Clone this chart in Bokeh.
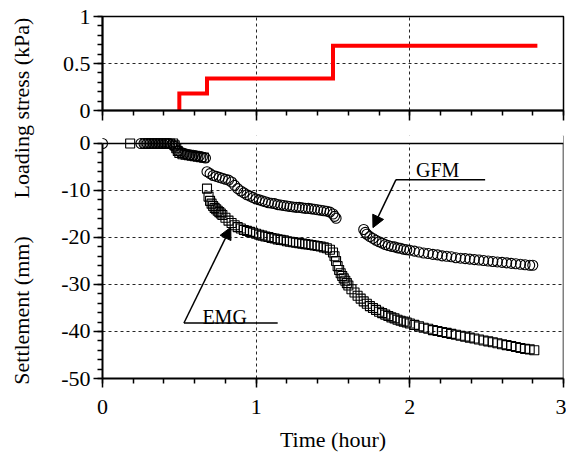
from math import pi
from bokeh.plotting import figure
from bokeh.layouts import row, column
from bokeh.models import (Range1d, FixedTicker, Span, BoxAnnotation, Label,
                          Arrow, NormalHead, CustomLabelingPolicy)
from bokeh.embed import file_html
from bokeh.resources import INLINE

FONT = "Liberation Serif"

# ---------------- data ----------------
# loading stress steps (time in hours, stress in kPa)
stress_t = [0.5, 0.5, 0.68, 1.5, 2.83]
stress_kpa = [0.0, 0.18, 0.34, 0.69, 0.69]

# GFM settlement (circles)
gfm_t = [0.00,
         0.25, 0.27, 0.29, 0.31, 0.33, 0.35, 0.37, 0.39, 0.41, 0.43, 0.45, 0.47,
         0.49, 0.51, 0.53, 0.55, 0.57, 0.59, 0.61, 0.63, 0.65, 0.67,
         0.68, 0.70, 0.72, 0.74, 0.76, 0.78, 0.80, 0.82, 0.84, 0.86, 0.88, 0.90,
         0.92, 0.94, 0.96, 0.98, 1.00, 1.02, 1.04, 1.06, 1.08, 1.10, 1.12, 1.14,
         1.16, 1.18, 1.20, 1.22, 1.24, 1.26, 1.28, 1.30, 1.32, 1.34, 1.36, 1.38,
         1.40, 1.42, 1.44, 1.46, 1.48, 1.50, 1.51, 1.52,
         1.70, 1.71, 1.72, 1.74, 1.76, 1.78, 1.80, 1.82, 1.84, 1.86, 1.88, 1.90,
         1.92, 1.94, 1.96, 1.98, 2.00, 2.03, 2.06, 2.09, 2.12, 2.15, 2.18, 2.21,
         2.24, 2.27, 2.30, 2.33, 2.36, 2.39, 2.42, 2.45, 2.48, 2.51, 2.54, 2.57,
         2.60, 2.63, 2.66, 2.69, 2.72, 2.75, 2.78, 2.80]
gfm_s = [0.0,
         0.0, 0.0, 0.0, 0.0, 0.0, 0.0, 0.0, 0.0, 0.0, 0.0, -0.2, -0.6,
         -1.5, -1.9, -2.1, -2.3, -2.4, -2.5, -2.6, -2.7, -2.9, -3.1,
         -6.0, -6.4, -6.8, -7.0, -7.2, -7.4, -7.6, -7.8, -8.2, -8.9, -9.6, -10.1,
         -10.5, -10.9, -11.2, -11.5, -11.8, -12.0, -12.2, -12.4, -12.6, -12.7, -12.8, -13.0,
         -13.1, -13.2, -13.3, -13.4, -13.5, -13.6, -13.6, -13.7, -13.8, -13.8, -13.9, -14.0,
         -14.1, -14.2, -14.3, -14.4, -14.6, -15.0, -15.5, -15.9,
         -18.3, -18.9, -19.3, -19.8, -20.2, -20.6, -20.9, -21.2, -21.5, -21.7, -21.9, -22.0,
         -22.2, -22.3, -22.5, -22.6, -22.7, -22.9, -23.1, -23.3, -23.4, -23.6, -23.7, -23.9,
         -24.0, -24.1, -24.3, -24.4, -24.5, -24.6, -24.7, -24.8, -24.9, -25.0, -25.1, -25.2,
         -25.3, -25.4, -25.5, -25.6, -25.7, -25.8, -25.9, -25.9]

# EMG settlement (squares)
emg_t = [0.18,
         0.28, 0.30, 0.32, 0.34, 0.36, 0.38, 0.40, 0.42, 0.44, 0.46,
         0.47, 0.48, 0.49, 0.50, 0.52, 0.54, 0.56, 0.58, 0.60, 0.62, 0.64, 0.66,
         0.68, 0.69, 0.70, 0.71, 0.72, 0.73, 0.74, 0.75, 0.76, 0.77, 0.78, 0.80,
         0.82, 0.84, 0.86, 0.88, 0.90, 0.92, 0.94, 0.96, 0.98, 1.00, 1.02, 1.04,
         1.06, 1.08, 1.10, 1.12, 1.14, 1.16, 1.18, 1.20, 1.22, 1.24, 1.26, 1.28,
         1.30, 1.32, 1.34, 1.36, 1.38, 1.40, 1.42, 1.44, 1.46, 1.48, 1.50,
         1.51, 1.52, 1.53, 1.54, 1.55, 1.56, 1.57, 1.58, 1.59, 1.60, 1.62, 1.64,
         1.66, 1.68, 1.70, 1.72, 1.74, 1.76, 1.78, 1.80, 1.82, 1.84, 1.86, 1.88,
         1.90, 1.92, 1.94, 1.96, 1.98, 2.00, 2.03, 2.06, 2.09, 2.12, 2.15, 2.18,
         2.21, 2.24, 2.27, 2.30, 2.33, 2.36, 2.39, 2.42, 2.45, 2.48, 2.51, 2.54,
         2.57, 2.60, 2.63, 2.66, 2.69, 2.72, 2.75, 2.78, 2.81]
emg_s = [0.0,
         0.0, 0.0, 0.0, 0.0, 0.0, 0.0, 0.0, 0.0, 0.0, 0.0,
         -0.4, -1.0, -1.6, -2.0, -2.3, -2.4, -2.5, -2.6, -2.7, -2.8, -2.9, -3.0,
         -9.6, -11.3, -12.2, -12.8, -13.3, -13.7, -14.0, -14.3, -14.6, -14.9, -15.2, -15.8,
         -16.4, -16.9, -17.4, -17.8, -18.1, -18.4, -18.6, -18.8, -19.0, -19.2, -19.4, -19.6,
         -19.8, -19.9, -20.1, -20.2, -20.4, -20.5, -20.6, -20.8, -20.9, -21.0, -21.1, -21.2,
         -21.3, -21.4, -21.5, -21.6, -21.7, -21.8, -21.9, -22.1, -22.3, -22.6, -23.2,
         -24.0, -25.0, -26.1, -26.9, -27.6, -28.2, -28.7, -29.2, -29.7, -30.2, -31.0, -31.7,
         -32.4, -33.0, -33.6, -34.1, -34.6, -35.0, -35.4, -35.8, -36.1, -36.4, -36.7, -37.0,
         -37.2, -37.5, -37.7, -37.9, -38.1, -38.3, -38.6, -38.9, -39.2, -39.4, -39.7, -39.9,
         -40.1, -40.3, -40.5, -40.7, -40.9, -41.1, -41.3, -41.5, -41.7, -41.9, -42.1, -42.3,
         -42.5, -42.7, -42.9, -43.1, -43.3, -43.5, -43.7, -43.8, -44.0]

# ticks
x_ticks = [0, 1, 2, 3]
x_tick_labels = ["0", "1", "2", "3"]
x_minor = [i * 0.2 for i in range(16)]
stress_ticks = [0, 0.5, 1]
stress_tick_labels = ["0", "0.5", "1"]
stress_minor = [i * 0.1 for i in range(11)]
settle_ticks = [0, -10, -20, -30, -40, -50]
settle_tick_labels = ["0", "-10", "-20", "-30", "-40", "-50"]
settle_minor = [-2 * i for i in range(26)]

# annotations (data coordinates)
gfm_text_pos = (2.04, -5.6)
gfm_leader_x = [1.91, 2.49]
gfm_leader_y = [-7.7, -7.7]
gfm_arrow_tip = (1.76, -17.9)
emg_text_pos = (0.65, -37.0)
emg_leader_x = [0.53, 1.14]
emg_leader_y = [-38.2, -38.2]
emg_arrow_tip = (0.835, -17.8)

# ---------------- styling helpers ----------------
def style_axis(ax):
    ax.axis_line_width = 2
    ax.axis_line_color = "black"
    ax.major_tick_line_width = 1.5
    ax.minor_tick_line_width = 1.5
    ax.major_tick_line_color = "black"
    ax.minor_tick_line_color = "black"
    ax.major_tick_in = 0
    ax.minor_tick_in = 0
    ax.major_tick_out = 9
    ax.minor_tick_out = 5
    ax.major_label_text_font = FONT
    ax.major_label_text_font_size = "22px"
    ax.major_label_text_color = "black"


def style_grid(g):
    g.grid_line_color = "black"
    g.grid_line_width = 1
    g.grid_line_dash = "3 3"
    g.grid_line_alpha = 0.85


FRAME_W = 461
LEFT = 56
RIGHT = 3

# ---------------- top panel: loading stress ----------------
top = figure(frame_width=FRAME_W, frame_height=94,
             x_range=Range1d(0, 3), y_range=Range1d(0, 1),
             output_backend="svg", toolbar_location=None,
             min_border_left=LEFT, min_border_right=RIGHT,
             min_border_top=16, min_border_bottom=12)
top.outline_line_color = "black"
top.outline_line_width = 1.5
top.xaxis.ticker = FixedTicker(ticks=x_ticks, minor_ticks=x_minor)
top.yaxis.ticker = FixedTicker(ticks=stress_ticks, minor_ticks=stress_minor)
for ax in (top.xaxis[0], top.yaxis[0]):
    style_axis(ax)
top.xaxis.major_tick_out = 10
top.xaxis.major_label_standoff = 0
top.xaxis.major_label_text_font_size = "1px"
top.xaxis.major_label_policy = CustomLabelingPolicy(code="return []")
top.yaxis.major_label_overrides = dict(zip(stress_ticks, stress_tick_labels))
top.yaxis.major_label_standoff = 3
style_grid(top.xgrid[0])
style_grid(top.ygrid[0])

top.step(stress_t, stress_kpa, mode="after", line_color="red", line_width=4,
         line_join="miter")

# ---------------- bottom panel: settlement ----------------
bot = figure(frame_width=FRAME_W, frame_height=243,
             x_range=Range1d(0, 3), y_range=Range1d(-50, 1.702),
             output_backend="svg", toolbar_location=None,
             min_border_left=LEFT, min_border_right=RIGHT,
             min_border_top=11, min_border_bottom=78)
bot.outline_line_color = None
bot.xaxis.ticker = FixedTicker(ticks=x_ticks, minor_ticks=x_minor)
bot.yaxis.ticker = FixedTicker(ticks=settle_ticks, minor_ticks=settle_minor)
bot.yaxis.bounds = (-50, 0)
for ax in (bot.xaxis[0], bot.yaxis[0]):
    style_axis(ax)
bot.xaxis.major_label_overrides = dict(zip(x_ticks, x_tick_labels))
bot.yaxis.major_label_overrides = dict(zip(settle_ticks, settle_tick_labels))
bot.yaxis.major_label_standoff = 3
bot.xaxis.major_label_standoff = 12
bot.xaxis.axis_label = "Time (hour)"
bot.xaxis.axis_label_text_font = FONT
bot.xaxis.axis_label_text_font_size = "22px"
bot.xaxis.axis_label_text_font_style = "normal"
bot.xaxis.axis_label_text_color = "black"
bot.xaxis.axis_label_standoff = 10
style_grid(bot.xgrid[0])
style_grid(bot.ygrid[0])

bot.add_layout(Span(location=3, dimension="height", line_color="black",
                    line_width=1.5, level="underlay"))
bot.add_layout(BoxAnnotation(bottom=0, fill_color="white", fill_alpha=1,
                             line_color=None, level="underlay"))
bot.add_layout(Span(location=0, dimension="width", line_color="black", line_width=1.5))

bot.scatter(gfm_t, gfm_s, marker="circle", size=10, fill_color=None,
            line_color="black", line_width=1.1)
bot.scatter(emg_t, emg_s, marker="square", size=9, fill_color=None,
            line_color="black", line_width=1.1)

# annotations
bot.line(gfm_leader_x, gfm_leader_y, line_color="black", line_width=1.5)
bot.add_layout(Arrow(end=NormalHead(size=12, fill_color="black", line_color="black"),
                     x_start=gfm_leader_x[0], y_start=gfm_leader_y[0],
                     x_end=gfm_arrow_tip[0], y_end=gfm_arrow_tip[1],
                     line_color="black", line_width=1.5))
bot.add_layout(Label(x=gfm_text_pos[0], y=gfm_text_pos[1], text="GFM",
                     text_font=FONT, text_font_size="20px", text_color="black",
                     text_align="left", text_baseline="alphabetic"))
bot.line(emg_leader_x, emg_leader_y, line_color="black", line_width=1.5)
bot.add_layout(Arrow(end=NormalHead(size=12, fill_color="black", line_color="black"),
                     x_start=emg_leader_x[0], y_start=emg_leader_y[0],
                     x_end=emg_arrow_tip[0], y_end=emg_arrow_tip[1],
                     line_color="black", line_width=1.5))
bot.add_layout(Label(x=emg_text_pos[0], y=emg_text_pos[1], text="EMG",
                     text_font=FONT, text_font_size="20px", text_color="black",
                     text_align="left", text_baseline="alphabetic"))

# ---------------- left strip with the y-axis titles ----------------
STRIP_H = 456
lab = figure(width=46, height=STRIP_H, x_range=Range1d(0, 46), y_range=Range1d(STRIP_H, 0),
             output_backend="svg", toolbar_location=None, min_border=0,
             x_axis_location=None, y_axis_location=None)
lab.outline_line_color = None
lab.grid.visible = False
lab.add_layout(Label(x=21, y=107.5, text="Loading stress (kPa)", angle=pi / 2,
                     text_align="center", text_baseline="middle", text_font=FONT,
                     text_font_size="22px", text_color="black"))
lab.add_layout(Label(x=21, y=310, text="Settlement (mm)", angle=pi / 2,
                     text_align="center", text_baseline="middle", text_font=FONT,
                     text_font_size="22px", text_color="black"))

layout = row(lab, column(top, bot))
open("out.html", "w").write(file_html(layout, INLINE))
